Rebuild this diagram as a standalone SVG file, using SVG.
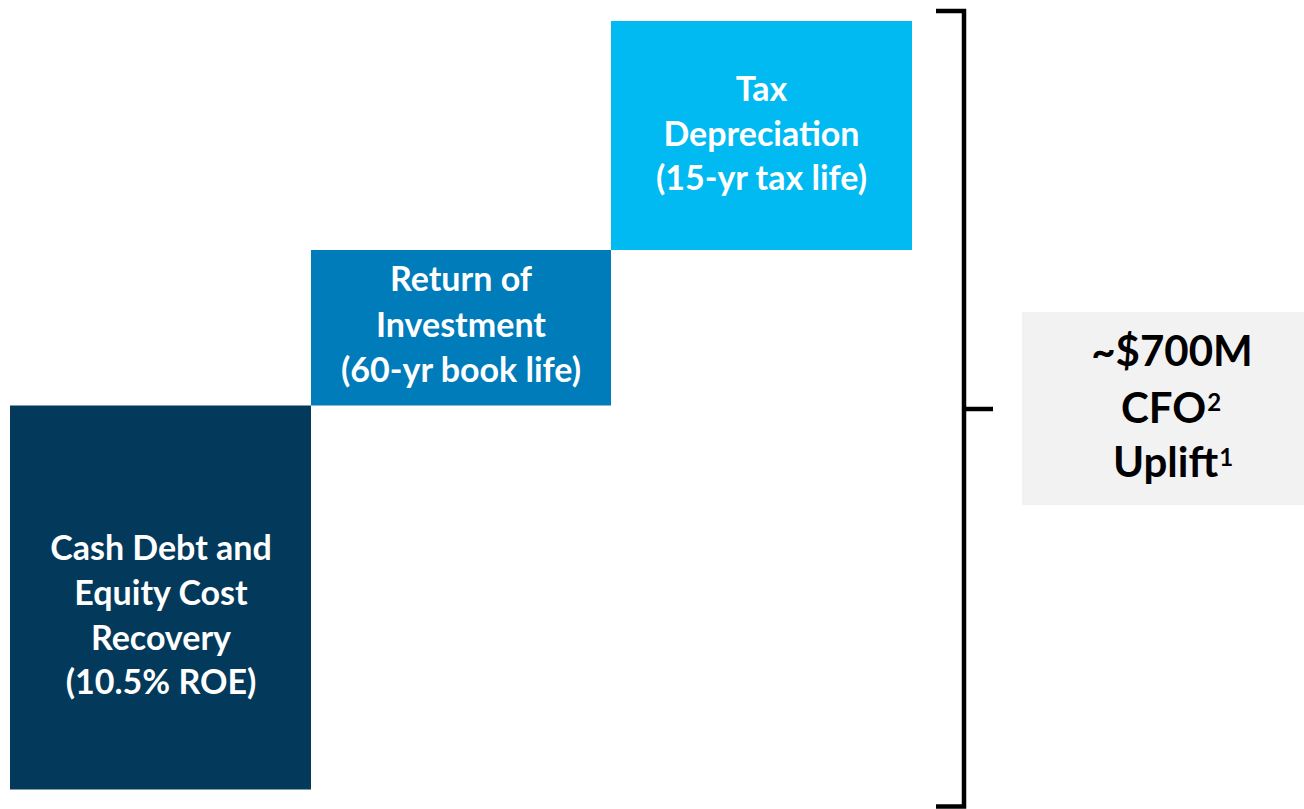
<svg xmlns="http://www.w3.org/2000/svg" width="1304" height="809" viewBox="0 0 1304 809">
<style>
.lbl{font-family:Lato,"Open Sans","Liberation Sans",sans-serif;font-weight:bold;font-size:34px;fill:#ffffff;text-anchor:middle}
.big{font-family:Lato,"Open Sans","Liberation Sans",sans-serif;font-weight:bold;font-size:42px;fill:#000000;text-anchor:middle}
.sup{font-size:24px}
.br{fill:none;stroke:#000000;stroke-width:4.5;stroke-linejoin:miter}
</style>
<rect width="1304" height="809" fill="#ffffff"/>
<g id="node-tax">
<rect x="611" y="21" width="301" height="229" fill="#00BAF1"/>
<text class="lbl" x="761.5" y="101">Tax</text>
<text class="lbl" x="761.5" y="145.5">Depreciation</text>
<text class="lbl" x="761.5" y="190">(15-yr tax life)</text>
</g>
<g id="node-return">
<rect x="311" y="250" width="300" height="155.5" fill="#007CBA"/>
<text class="lbl" x="461" y="291">Return of</text>
<text class="lbl" x="461" y="336.5">Investment</text>
<text class="lbl" x="461" y="381.5">(60-yr book life)</text>
</g>
<g id="node-cash">
<rect x="10" y="405.5" width="301" height="384" fill="#033A5B"/>
<text class="lbl" x="161" y="559.5">Cash Debt and</text>
<text class="lbl" x="161" y="604.5">Equity Cost</text>
<text class="lbl" x="161" y="649.5">Recovery</text>
<text class="lbl" x="161" y="694">(10.5% ROE)</text>
</g>
<g id="node-uplift">
<rect x="1022" y="312" width="282" height="193" fill="#F2F2F2"/>
<text class="big" x="1172" y="366">~$700M</text>
<text class="big" x="1171" y="422.5">CFO<tspan class="sup" dx="1" dy="-12">2</tspan></text>
<text class="big" x="1173" y="477">Uplift<tspan class="sup" dx="1" dy="-11">1</tspan></text>
</g>
<g id="connectors">
<path class="br" d="M936 11 H964 V806.5 H936"/>
<path class="br" d="M964 409 H993"/>
</g>
</svg>
